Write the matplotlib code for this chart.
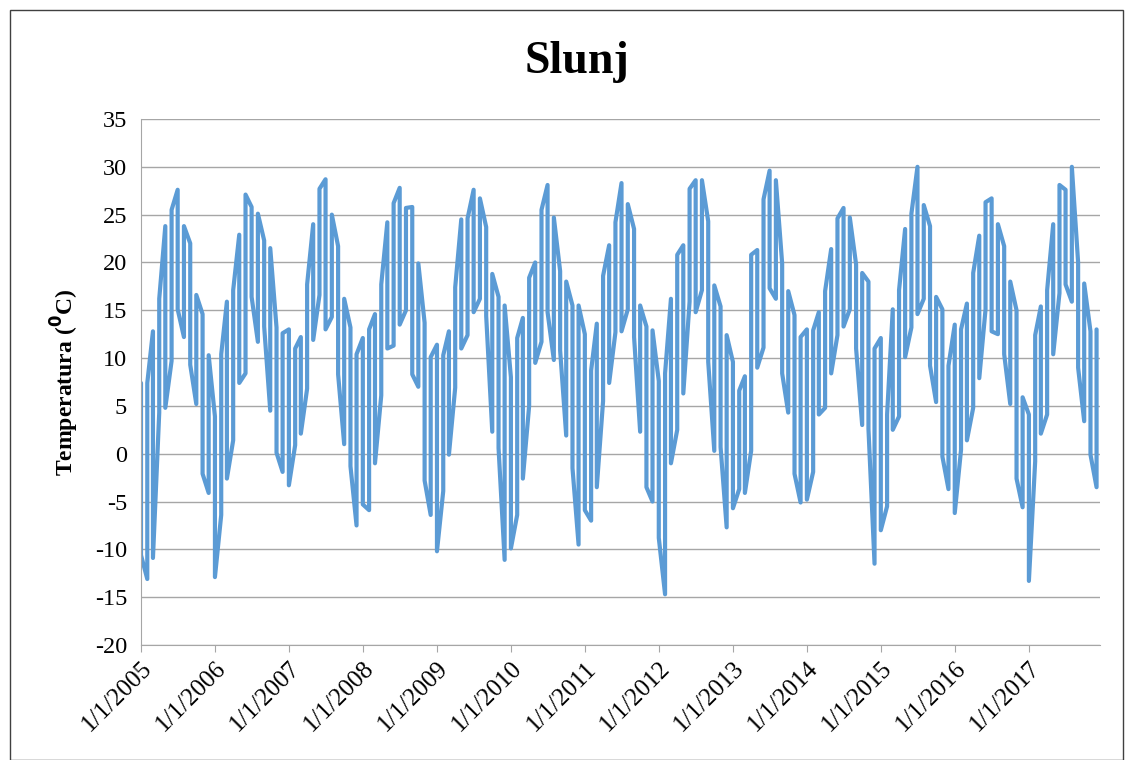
import matplotlib
matplotlib.use("Agg")
import matplotlib.pyplot as plt
import pandas as pd
from matplotlib.patches import Rectangle

# ---- data: monthly upper / lower values (Jan 2005 .. Dec 2017) ----
months = pd.date_range("2005-01-01", periods=156, freq="MS")

high_vals = [
    7.4, 7.4, 12.8, 16.2, 23.8, 25.5, 27.6, 23.8, 22.0, 16.6, 14.6, 10.3,   # 2005
    3.9, 10.4, 15.9, 17.1, 22.9, 27.1, 25.8, 25.1, 22.3, 21.5, 13.2, 12.6,  # 2006
    13.0, 11.0, 12.2, 17.7, 24.0, 27.7, 28.7, 25.0, 21.7, 16.2, 13.2, 10.4, # 2007
    12.1, 13.0, 14.6, 17.7, 24.2, 26.2, 27.8, 25.7, 25.8, 19.9, 13.7, 10.1, # 2008
    11.4, 10.3, 12.8, 17.4, 24.5, 24.6, 27.6, 26.7, 23.7, 18.8, 16.4, 15.5, # 2009
    8.0, 12.1, 14.2, 18.4, 20.0, 25.5, 28.1, 24.7, 19.1, 18.0, 15.5, 15.5,  # 2010
    12.5, 8.7, 13.6, 18.6, 21.8, 24.2, 28.3, 26.1, 23.5, 15.5, 13.3, 12.9,  # 2011
    7.6, 8.4, 16.2, 20.8, 21.8, 27.7, 28.6, 28.6, 24.3, 17.6, 15.4, 12.4,   # 2012
    9.6, 6.6, 8.1, 20.8, 21.3, 26.6, 29.6, 28.6, 19.9, 17.0, 14.5, 12.2,    # 2013
    13.0, 12.9, 14.8, 17.0, 21.4, 24.6, 25.7, 24.7, 19.8, 18.9, 18.0, 11.0, # 2014
    12.1, 4.1, 15.1, 17.1, 23.5, 25.1, 30.0, 26.0, 23.8, 16.4, 15.1, 9.2,   # 2015
    13.5, 13.0, 15.7, 18.9, 22.8, 26.3, 26.7, 24.0, 21.7, 18.0, 15.0, 5.9,  # 2016
    4.1, 12.4, 15.4, 17.1, 24.0, 28.1, 27.6, 30.0, 20.0, 17.8, 12.8, 13.0,  # 2017
]

low_vals = [
    -10.6, -13.1, -10.9, 4.3, 4.8, 9.7, 15.1, 12.2, 9.3, 5.2, -2.1, -4.1,   # 2005
    -12.9, -6.4, -2.6, 1.4, 7.4, 8.4, 16.4, 11.7, 13.3, 4.5, 0.1, -1.9,     # 2006
    -3.3, 0.9, 2.1, 6.8, 11.9, 16.6, 13.0, 14.3, 8.3, 1.0, -1.3, -7.5,      # 2007
    -5.3, -5.9, -1.0, 6.1, 11.0, 11.3, 13.5, 15.0, 8.3, 7.0, -2.8, -6.4,    # 2008
    -10.2, -3.9, -0.1, 6.9, 11.0, 12.4, 14.8, 16.2, 14.4, 2.3, 0.6, -11.1,  # 2009
    -9.9, -6.4, -2.6, 5.0, 9.5, 11.7, 14.8, 9.8, 10.8, 1.9, -1.5, -9.5,     # 2010
    -5.9, -7.0, -3.5, 5.5, 7.4, 12.7, 12.8, 15.1, 12.2, 2.3, -3.5, -5.0,    # 2011
    -8.8, -14.7, -1.0, 2.5, 6.3, 15.9, 14.8, 17.1, 9.6, 0.3, 0.7, -7.7,     # 2012
    -5.7, -3.7, -4.1, 0.3, 9.0, 11.1, 17.3, 16.2, 8.4, 4.3, -2.1, -5.1,     # 2013
    -4.8, -1.9, 4.1, 4.8, 8.4, 12.4, 13.3, 15.1, 11.0, 3.0, 2.6, -11.5,     # 2014
    -8.0, -5.5, 2.5, 3.9, 10.1, 13.2, 14.6, 16.2, 9.2, 5.4, -0.3, -3.7,     # 2015
    -6.2, 0.4, 1.4, 4.8, 7.9, 15.1, 12.8, 12.5, 10.4, 5.2, -2.6, -5.6,      # 2016
    -13.3, -0.8, 2.1, 4.1, 10.4, 16.8, 17.7, 15.9, 9.0, 3.4, -0.1, -3.5,    # 2017
]

year_ticks = pd.date_range("2005-01-01", "2017-01-01", freq="YS")
tick_labels = [f"1/1/{d.year}" for d in year_ticks]
y_ticks = list(range(-20, 36, 5))

# ---- build line path: two readings per month at the same date ----
xs, ys = [], []
for i, d in enumerate(months):
    pair = (high_vals[i], low_vals[i]) if i % 2 == 0 else (low_vals[i], high_vals[i])
    xs += [d, d]
    ys += list(pair)

serif = ["Liberation Serif", "DejaVu Serif"]
plt.rcParams["font.family"] = serif
plt.rcParams["axes.unicode_minus"] = False

fig = plt.figure(figsize=(11.34, 7.60), dpi=100)
ax = fig.add_axes([141 / 1134, 1 - 645 / 760, (1100 - 141) / 1134, (645 - 119) / 760])

ax.plot(xs, ys, color="#5B9BD5", lw=3.0, solid_joinstyle="round", solid_capstyle="round")

ax.set_ylim(-20, 35)
ax.set_yticks(y_ticks)
ax.set_xlim(pd.Timestamp("2005-01-01"), pd.Timestamp("2017-12-18"))
ax.set_xticks(year_ticks)
ax.set_xticklabels(tick_labels, rotation=45, ha="right", rotation_mode="anchor")

ax.grid(axis="y", color="#A6A6A6", lw=1.0)
ax.set_axisbelow(True)
for s in ["top", "right"]:
    ax.spines[s].set_visible(False)
ax.spines["left"].set_color("#A6A6A6")
ax.spines["bottom"].set_color("#A6A6A6")
ax.tick_params(axis="y", length=0, labelsize=17.5, pad=10)
ax.tick_params(axis="x", length=5, color="#A6A6A6", labelsize=18, pad=4)

ax.set_ylabel("Temperatura ($\\mathbf{^{0}}$C)", fontsize=17, fontweight="bold", labelpad=10)
fig.text(0.509, 1 - 62 / 760, "Slunj", ha="center", va="center", fontsize=33, fontweight="bold")

fig.patches.append(Rectangle((10 / 1134, 0), (1123 - 10) / 1134, 1 - 10 / 760,
                             transform=fig.transFigure, fill=False, ec="#404040", lw=1.0))

fig.savefig("out.png", dpi=100)
